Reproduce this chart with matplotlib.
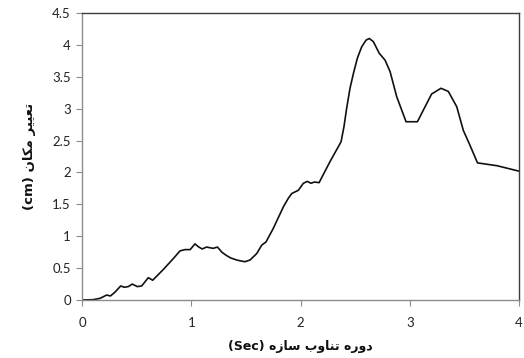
import matplotlib
matplotlib.use("Agg")
import matplotlib.pyplot as plt

# period (sec) and displacement (cm)
period = [0.0, 0.10, 0.165, 0.226, 0.26, 0.30, 0.354, 0.387, 0.424, 0.46, 0.506,
          0.546, 0.607, 0.647, 0.745, 0.836, 0.897, 0.943, 0.99, 1.034, 1.065,
          1.10, 1.14, 1.20, 1.24, 1.28, 1.32, 1.36, 1.42, 1.49, 1.538, 1.60,
          1.645, 1.684, 1.75, 1.843, 1.888, 1.92, 1.98, 2.026, 2.062, 2.096,
          2.127, 2.17, 2.27, 2.371, 2.398, 2.42, 2.453, 2.484, 2.52, 2.56, 2.60,
          2.63, 2.667, 2.72, 2.774, 2.82, 2.88, 2.966, 3.07, 3.14, 3.20, 3.286,
          3.353, 3.43, 3.49, 3.55, 3.62, 3.80, 4.0]
displacement = [0.0, 0.005, 0.026, 0.078, 0.063, 0.12, 0.22, 0.20, 0.21, 0.25, 0.21,
                0.22, 0.35, 0.31, 0.48, 0.65, 0.77, 0.79, 0.79, 0.88, 0.835,
                0.80, 0.83, 0.81, 0.83, 0.75, 0.70, 0.66, 0.625, 0.60, 0.627, 0.73,
                0.86, 0.91, 1.12, 1.46, 1.594, 1.67, 1.72, 1.83, 1.86, 1.83,
                1.85, 1.84, 2.17, 2.48, 2.72, 2.98, 3.32, 3.55, 3.79, 3.97, 4.075,
                4.10, 4.05, 3.87, 3.76, 3.58, 3.19, 2.795, 2.795, 3.03, 3.23, 3.32,
                3.27, 3.03, 2.66, 2.43, 2.15, 2.105, 2.02]

x_ticks = [0, 1, 2, 3, 4]
y_ticks = [0, 0.5, 1, 1.5, 2, 2.5, 3, 3.5, 4, 4.5]
y_tick_labels = ["0", "0.5", "1", "1.5", "2", "2.5", "3", "3.5", "4", "4.5"]

# Persian labels, written in shaped presentation forms and visual order
x_label = "(Sec) " + "\ufee9\ufeaf\ufe8e\ufeb3" + " " + "\ufe8f\ufeed\ufe8e\ufee8\ufe97" + " " + "\ufee9\ufead\ufeed\ufea9"
y_label = "(cm) " + "\ufee5\ufe8e\ufb91\ufee3" + " " + "\ufeae\ufbff\ufbff\ufecc\ufe97"

fig = plt.figure(figsize=(5.24, 3.58), dpi=100)
ax = fig.add_axes([0.1565, 0.162, 0.834, 0.8017])

ax.plot(period, displacement, color="#111111", linewidth=1.2, solid_joinstyle="round")

ax.set_xlim(0, 4)
ax.set_ylim(0, 4.5)
ax.set_xticks(x_ticks)
ax.set_yticks(y_ticks)
ax.set_yticklabels(y_tick_labels)

for side in ["left", "bottom"]:
    ax.spines[side].set_color("#8c8c8c")
    ax.spines[side].set_linewidth(1.0)
for side in ["top", "right"]:
    ax.spines[side].set_color("#3c3c3c")
    ax.spines[side].set_linewidth(1.0)

ax.tick_params(axis="both", direction="out", length=4, width=0.8, color="#8c8c8c",
               labelsize=9.5, labelcolor="#222222", pad=4)
for lab in ax.get_xticklabels() + ax.get_yticklabels():
    lab.set_family("Lato")
ax.tick_params(axis="x", pad=8)

ax.set_xlabel(x_label, family=["DejaVu Sans"], fontweight="bold", fontsize=9,
              labelpad=8, color="#111111")
ax.set_ylabel(y_label, family=["DejaVu Sans"], fontweight="bold", fontsize=9.5,
              labelpad=12, color="#111111")

fig.savefig("out.png", dpi=100)
